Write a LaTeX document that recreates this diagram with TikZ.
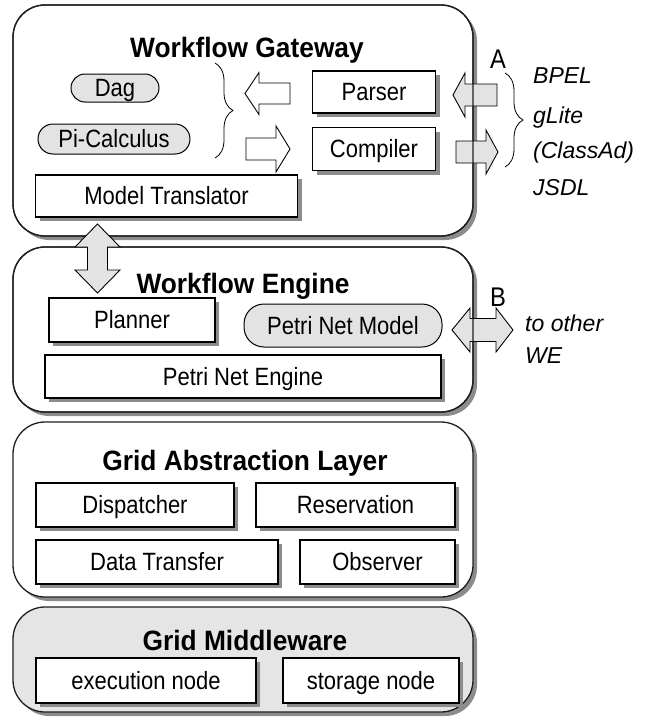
\documentclass[tikz,border=0pt]{standalone}
\usepackage{fontspec}
\setmainfont{Liberation Sans}
\newfontfamily\boxfont[FakeStretch=0.88]{Liberation Sans}
\newfontfamily\titlefont[FakeStretch=0.94]{Liberation Sans}
\usetikzlibrary{shadows,decorations.pathreplacing}
\definecolor{pillgray}{gray}{0.89}
\definecolor{arrowgray}{gray}{0.89}
\definecolor{mwgray}{gray}{0.90}
\definecolor{shadowgray}{gray}{0.55}
\definecolor{edgegray}{gray}{0.12}
\begin{document}
\begin{tikzpicture}[x=1pt,y=-1pt,
  txt/.style={font=\boxfont\fontsize{25pt}{27pt}\selectfont, text height=17.9pt, text depth=0pt},
  ttl/.style={font=\titlefont\fontsize{28pt}{30pt}\selectfont\bfseries, text height=20pt, text depth=0pt, inner sep=0pt},
  lbl/.style={font=\fontsize{23pt}{26pt}\selectfont\itshape, anchor=base west, inner sep=0pt},
  letter/.style={font=\boxfont\fontsize{27pt}{29pt}\selectfont, inner sep=0pt},
  layer/.style={draw=edgegray, line width=1.3pt, rounded corners=32pt, fill=white,
    minimum width=460pt, outer sep=0pt, inner sep=0pt,
    drop shadow={shadow xshift=4pt, shadow yshift=-4pt, fill=shadowgray, opacity=1}},
  layerline/.style={draw=edgegray, line width=1.3pt, rounded corners=32pt},
  box/.style={draw=black, line width=1.1pt, fill=white, inner sep=0pt, outer sep=0pt, txt,
    drop shadow={shadow xshift=4pt, shadow yshift=-4pt, fill=shadowgray, opacity=1}},
  pill/.style={draw=black, line width=1pt, fill=pillgray, inner sep=0pt, outer sep=0pt, txt},
  warrow/.style={draw=black, line width=0.9pt, fill=white, line join=miter},
  garrow/.style={draw=black, line width=0.9pt, fill=arrowgray, line join=miter},
  bracestyle/.style={draw=black, line width=0.8pt, decorate, decoration={brace, amplitude=18pt}}
]
\useasboundingbox (0,0) rectangle (646,717);

% layers
\node[layer, minimum height=231pt] (l1) at (243,120.5) {};
\node[layer, minimum height=165pt] (l2) at (243,329.5) {};
\node[layer, minimum height=175pt] (l3) at (243,509.5) {};
\node[layer, minimum height=105pt, fill=mwgray] (l4) at (243,659.5) {};

% titles
\node[ttl] (t1) at (247,48) {Workflow Gateway};
\node[ttl] (t2) at (243,283) {Workflow Engine};
\node[ttl] (t3) at (245,460) {Grid Abstraction Layer};
\node[ttl] (t4) at (245,640) {Grid Middleware};

% workflow gateway content
\node[pill, rounded corners=14pt, minimum width=88pt, minimum height=28pt] (dag) at (115,88) {Dag};
\node[pill, rounded corners=15pt, minimum width=152pt, minimum height=30pt] (pi) at (114,139) {Pi-Calculus};
\node[box, minimum width=123pt, minimum height=42pt] (parser) at (374,92) {Parser};
\node[box, minimum width=123pt, minimum height=43pt] (compiler) at (374,149) {Compiler};
\node[box, minimum width=262pt, minimum height=42pt] (mt) at (166.5,196) {Model Translator};

\coordinate (b1top) at (215,63);
\coordinate (b1bot) at (215,158);
\draw[bracestyle] (b1top) -- (b1bot);

\draw[warrow] (245,93.5) -- (259,72.5) -- (259,83) -- (290,83) -- (290,104) -- (259,104) -- (259,114.5) -- cycle;
\draw[warrow] (290,149) -- (276,126) -- (276,138) -- (246,138) -- (246,160) -- (276,160) -- (276,172) -- cycle;

% external arrows A
\draw[garrow] (453,95) -- (465,73) -- (465,84) -- (497,84) -- (497,106) -- (465,106) -- (465,117) -- cycle;
\draw[garrow] (498,152) -- (486,130) -- (486,141) -- (456,141) -- (456,163) -- (486,163) -- (486,174) -- cycle;

% workflow engine content
\node[box, minimum width=166pt, minimum height=44pt] (planner) at (132,320) {Planner};
\node[pill, rounded corners=20pt, minimum width=198pt, minimum height=43pt] (pnm) at (343,325.5) {Petri Net Model};
\node[box, minimum width=396pt, minimum height=43pt] (pne) at (243,376.5) {Petri Net Engine};

% external arrow B
\draw[garrow] (452,330) -- (470,308) -- (470,318.5) -- (496,318.5) -- (496,308) -- (513,330) -- (496,352) -- (496,341.5) -- (470,341.5) -- (470,352) -- cycle;

% re-stroke layer borders over arrows
\draw[layerline] (l1.south west) rectangle (l1.north east);
\draw[layerline] (l2.south west) rectangle (l2.north east);

% vertical double arrow between gateway and engine
\draw[garrow] (97.5,224) -- (120,247) -- (107.5,247) -- (107.5,270) -- (120,270) -- (97.5,293) -- (75,270) -- (87.5,270) -- (87.5,247) -- (75,247) -- cycle;

% grid abstraction layer content
\node[box, minimum width=198pt, minimum height=44pt] (disp) at (135,505) {Dispatcher};
\node[box, minimum width=199pt, minimum height=44pt] (resv) at (355.5,505) {Reservation};
\node[box, minimum width=242pt, minimum height=44pt] (dt) at (157,562) {Data Transfer};
\node[box, minimum width=155pt, minimum height=44pt] (obs) at (377.5,562) {Observer};

% grid middleware content
\node[box, minimum width=220pt, minimum height=45pt] (exec) at (146,680.5) {execution node};
\node[box, minimum width=176pt, minimum height=45pt] (stor) at (371,680.5) {storage node};

% labels A
\node[letter] (la) at (498,59) {A};
\coordinate (b2top) at (505,73);
\coordinate (b2bot) at (505,167);
\draw[bracestyle] (b2top) -- (b2bot);
\node[lbl] (bpel) at (533,83) {BPEL};
\node[lbl] (glite) at (533,123) {gLite};
\node[lbl] (classad) at (533,158) {(ClassAd)};
\node[lbl] (jsdl) at (533,195) {JSDL};

% labels B
\node[letter] (lb) at (498,297) {B};
\node[lbl] (toother) at (525,331) {to other};
\node[lbl] (we) at (525,363) {WE};
\end{tikzpicture}
\end{document}
